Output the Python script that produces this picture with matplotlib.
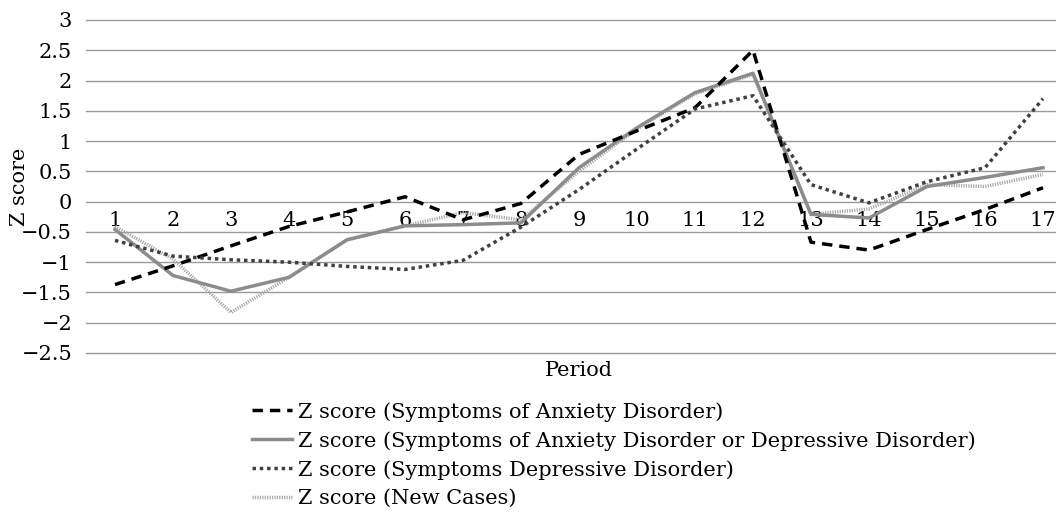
import matplotlib
matplotlib.use("Agg")
import matplotlib.pyplot as plt

periods = [str(i) for i in range(1, 18)]
anxiety = [-1.37, -1.06, -0.73, -0.41, -0.17, 0.08, -0.30, -0.03, 0.78, 1.17, 1.55, 2.50, -0.67, -0.80, -0.46, -0.13, 0.23]
anx_or_dep = [-0.46, -1.22, -1.48, -1.25, -0.63, -0.40, -0.38, -0.35, 0.56, 1.22, 1.80, 2.12, -0.21, -0.27, 0.25, 0.40, 0.56]
depressive = [-0.64, -0.90, -0.96, -1.00, -1.07, -1.12, -0.97, -0.42, 0.20, 0.87, 1.53, 1.75, 0.28, -0.02, 0.33, 0.56, 1.70]
new_cases = [-0.41, -0.95, -1.83, -1.25, -0.63, -0.40, -0.18, -0.30, 0.50, 1.20, 1.78, 2.10, -0.21, -0.12, 0.28, 0.25, 0.45]
labels = ["Z score (Symptoms of Anxiety Disorder)",
          "Z score (Symptoms of Anxiety Disorder or Depressive Disorder)",
          "Z score (Symptoms Depressive Disorder)",
          "Z score (New Cases)"]
yticks = [-2.5, -2, -1.5, -1, -0.5, 0, 0.5, 1, 1.5, 2, 2.5, 3]

plt.rcParams['font.family'] = ['DejaVu Serif']
fs = 15

fig = plt.figure(figsize=(10.56, 5.22), dpi=100)
W, H = 1056, 522
ax = fig.add_axes([86 / W, (H - 353) / H, 986 / W, 333 / H])

x = list(range(1, 18))
l1, = ax.plot(x, anxiety, color='black', lw=2.5, linestyle=(0, (3, 2)), zorder=5,
              dash_capstyle='butt')
l2, = ax.plot(x, anx_or_dep, color='#8c8c8c', lw=2.5, zorder=4)
l3, = ax.plot(x, depressive, color='#404040', lw=2.5, linestyle=(0, (1, 1.1)), zorder=6,
              dash_capstyle='butt')
l4, = ax.plot(x, new_cases, color='#a8a8a8', lw=2.5, linestyle=(0, (0.35, 0.35)), zorder=3,
              dash_capstyle='butt')

ax.spines['bottom'].set_position(('data', 0))
for s in ax.spines.values():
    s.set_visible(False)

ax.set_xlim(0.5, 17.5)
ax.set_ylim(-2.5, 3)
ax.set_yticks(yticks)
ax.set_yticklabels([("%g" % v).replace('-', '\u2212') for v in yticks])
ax.yaxis.grid(True, color='#9a9a9a', lw=1.0)
for gl in ax.get_ygridlines():
    gl.set_clip_on(False)
ax.set_axisbelow(True)
ax.set_xticks(x)
ax.set_xticklabels(periods)
ax.tick_params(axis='both', length=0, labelsize=fs)
ax.tick_params(axis='x', pad=7)
ax.tick_params(axis='y', pad=10)

ax.set_ylabel("Z score", fontsize=fs)
ax.yaxis.set_label_coords(-57 / 986, 0.5)
fig.text(579 / W, (H - 370) / H, "Period", fontsize=fs, ha='center', va='center')

fig.legend([l1, l2, l3, l4], labels, loc='upper left', bbox_to_anchor=(252 / W, (H - 402) / H),
           frameon=False, fontsize=fs, handlelength=1.9, handletextpad=0.3,
           labelspacing=0.45, borderaxespad=0, borderpad=0)

fig.savefig("out.png", dpi=100)
